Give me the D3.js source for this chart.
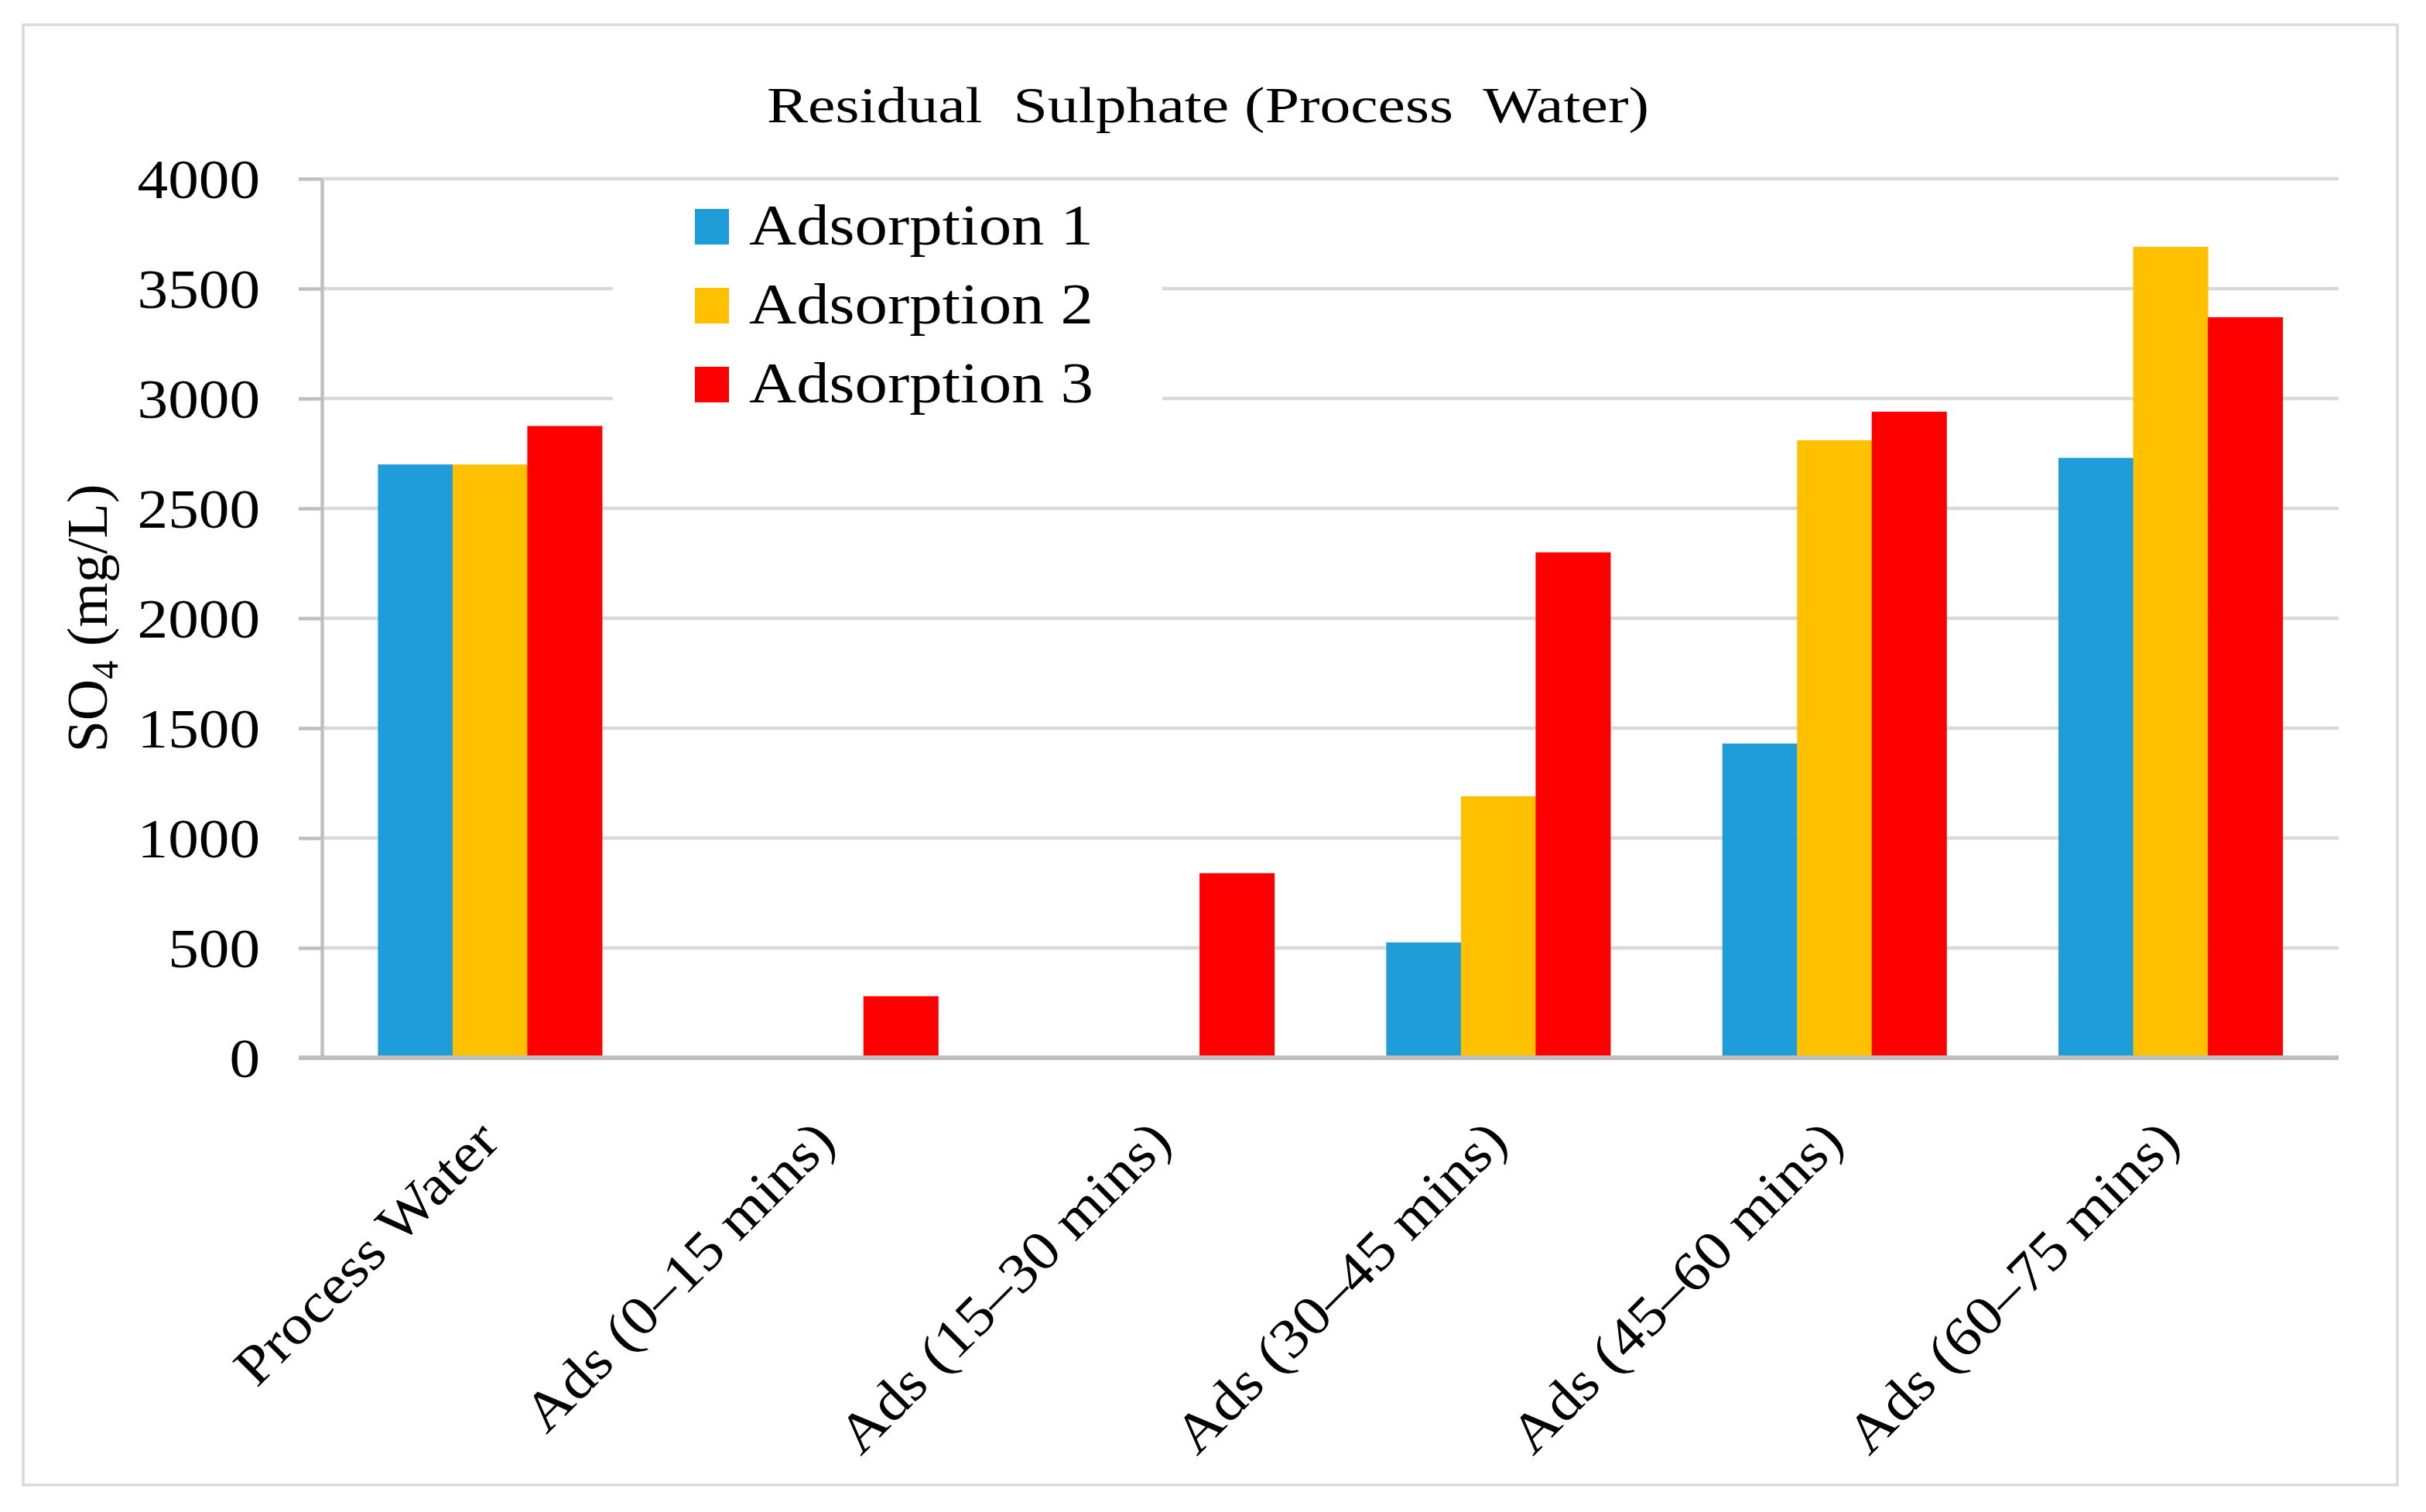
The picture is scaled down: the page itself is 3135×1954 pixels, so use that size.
<!DOCTYPE html>
<html>
<head>
<meta charset="utf-8">
<script src="https://cdn.jsdelivr.net/npm/d3@7"></script>
<style>
  body { margin: 0; background: #fff; }
  svg { display: block; }
  text { font-family: "Palatino Linotype", "Book Antiqua", Palatino, "Liberation Serif", serif; fill: #000; }
</style>
</head>
<body>
<svg id="chart" width="3135" height="1954"></svg>
<script>
// categories and series
const categories = ['Process Water', 'Ads (0–15 mins)', 'Ads (15–30 mins)', 'Ads (30–45 mins)', 'Ads (45–60 mins)', 'Ads (60–75 mins)'];
const seriesNames = ['Adsorption 1', 'Adsorption 2', 'Adsorption 3'];
const adsorption1 = [2700, 0, 0, 525, 1430, 2730];
const adsorption2 = [2700, 0, 0, 1190, 2810, 3690];
const adsorption3 = [2875, 280, 840, 2300, 2940, 3370];
const yTicks = [0, 500, 1000, 1500, 2000, 2500, 3000, 3500, 4000];
const colors = ['#1e9dd8', '#ffc000', '#ff0000'];

const seriesValues = [adsorption1, adsorption2, adsorption3];
const widen = 1.1; // the original font is wider than the fallback serif

const svg = d3.select('#chart');
const plotLeft = 416, plotRight = 3022, plotTop = 231, plotBottom = 1367;

// outer frame
svg.append('rect')
	.attr('x', 30).attr('y', 32)
	.attr('width', 3068).attr('height', 1887)
	.attr('fill', '#fff')
	.attr('stroke', '#d9d9d9')
	.attr('stroke-width', 3.5);

const x = d3.scaleBand()
	.domain(categories)
	.range([plotLeft, plotRight])
	.paddingInner(1 / 3)
	.paddingOuter(1 / 6);

const xSub = d3.scaleBand()
	.domain(seriesNames)
	.range([0, x.bandwidth()]);

const y = d3.scaleLinear()
	.domain([0, 4000])
	.range([plotBottom, plotTop]);

// gridlines
svg.append('g')
	.selectAll('line')
	.data(yTicks.filter(t => t > 0))
	.join('line')
	.attr('x1', plotLeft).attr('x2', plotRight)
	.attr('y1', d => y(d)).attr('y2', d => y(d))
	.attr('stroke', '#d9d9d9')
	.attr('stroke-width', 4.5);

// y axis
const yAxis = svg.append('g')
	.attr('transform', `translate(${plotLeft},0)`)
	.call(d3.axisLeft(y).tickValues(yTicks).tickFormat(d3.format('d'))
		.tickSize(30).tickPadding(50).tickSizeOuter(0));
yAxis.select('.domain').attr('stroke', '#bfbfbf').attr('stroke-width', 4.5);
yAxis.selectAll('.tick line').attr('stroke', '#bfbfbf').attr('stroke-width', 4.5);
yAxis.selectAll('.tick text')
	.attr('font-size', 72)
	.attr('font-family', null)
	.attr('dy', '0.34em');

// legend box (covers the gridlines behind it)
svg.append('rect')
	.attr('x', 792).attr('y', 245)
	.attr('width', 710).attr('height', 305)
	.attr('fill', '#fff');

// bars
const groups = svg.append('g')
	.selectAll('g')
	.data(categories)
	.join('g')
	.attr('transform', d => `translate(${x(d)},0)`);

groups.selectAll('rect')
	.data((d, i) => seriesNames.map((s, j) => ({ s, j, v: seriesValues[j][i] })))
	.join('rect')
	.attr('x', d => xSub(d.s))
	.attr('width', xSub.bandwidth() + 0.5)
	.attr('y', d => y(d.v))
	.attr('height', d => y(0) - y(d.v))
	.attr('fill', d => colors[d.j]);

// x axis
const xAxis = svg.append('g')
	.attr('transform', `translate(0,${plotBottom})`)
	.call(d3.axisBottom(x).tickSize(0).tickSizeOuter(0));
xAxis.select('.domain').remove();
svg.append('line')
	.attr('x1', plotLeft - 30).attr('x2', plotRight)
	.attr('y1', plotBottom).attr('y2', plotBottom)
	.attr('stroke', '#bfbfbf')
	.attr('stroke-width', 6);

xAxis.selectAll('.tick text')
	.attr('font-size', 72)
	.attr('font-family', null)
	.attr('text-anchor', 'end')
	.attr('dy', null)
	.attr('y', 0)
	.attr('transform', 'translate(15,111) rotate(-45)');

// y axis title
svg.append('text')
	.attr('transform', `translate(138,${(plotTop + plotBottom) / 2}) rotate(-90)`)
	.attr('text-anchor', 'middle')
	.attr('font-size', 74)
	.call(t => {
		t.append('tspan').text('SO');
		t.append('tspan').attr('font-size', 48).attr('dy', 14).text('4');
		t.append('tspan').attr('dy', -14).text(' (mg/L)');
	});

// title
svg.append('text')
	.attr('x', 1561).attr('y', 158)
	.attr('text-anchor', 'middle')
	.attr('font-size', 66)
	.style('white-space', 'pre')
	.text('Residual  Sulphate (Process  Water)')
	.attr('textLength', 1140)
	.attr('lengthAdjust', 'spacingAndGlyphs');

// legend
const legend = svg.append('g')
	.selectAll('g')
	.data(seriesNames)
	.join('g')
	.attr('transform', (d, i) => `translate(898,${316 + i * 102})`);
legend.append('rect')
	.attr('x', 0).attr('y', -46)
	.attr('width', 44).attr('height', 46)
	.attr('fill', (d, i) => colors[i]);
legend.append('text')
	.attr('x', 70).attr('y', 0)
	.attr('font-size', 74)
	.text(d => d)
	.attr('textLength', 445)
	.attr('lengthAdjust', 'spacingAndGlyphs');

// widen the axis labels a little to match the original face
svg.selectAll('.tick text').each(function () {
	const len = this.getComputedTextLength();
	d3.select(this).attr('textLength', len * widen).attr('lengthAdjust', 'spacingAndGlyphs');
});
</script>
</body>
</html>
